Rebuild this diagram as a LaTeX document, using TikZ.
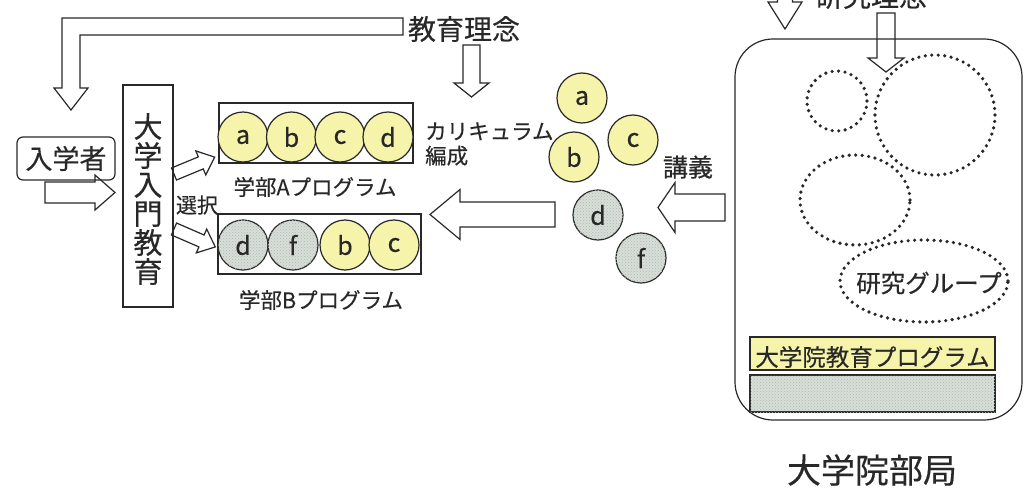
\documentclass[tikz,border=0pt]{standalone}
\usepackage{fontspec}
\setmainfont{Noto Sans CJK JP}[FakeBold=0.35]
\usetikzlibrary{patterns}
\definecolor{ink}{RGB}{40,40,40}
\definecolor{yel}{RGB}{246,243,170}
\definecolor{grn}{RGB}{216,222,216}
\definecolor{speck}{RGB}{172,186,176}
\newcommand\fs[1]{\fontsize{#1}{#1}\selectfont}
\newcommand\blockarr[6]{\draw[ln,shift={#1},rotate=#2] (0,-#4) -- ({#3-#6},-#4) -- ({#3-#6},-#5) -- (#3,0) -- ({#3-#6},#5) -- ({#3-#6},#4) -- (0,#4) -- cycle;}
\tikzset{
 ln/.style={draw=ink, line width=1.2},
 ycirc/.style={circle, ln, fill=yel, minimum size=50, inner sep=0, font=\fs{25}, text=ink},
 gcirc/.style={circle, ln, fill=grn, postaction={pattern=crosshatch dots, pattern color=speck}, minimum size=50, inner sep=0, font=\fs{25}, text=ink},
 dotline/.style={draw=ink, line width=3.6, line cap=round, dash pattern=on 0pt off 6.5pt},
 lbl/.style={text=ink, inner sep=0},
}
\begin{document}
\begin{tikzpicture}[x=1pt,y=-1pt]
\useasboundingbox (0,0) rectangle (1025,495);
% top elbow arrow
\draw[ln] (403,18) -- (62,18) -- (62,88) -- (54,88) -- (71,110) -- (88,88) -- (80,88) -- (80,35) -- (403,35) -- cycle;
\node[lbl, font=\fs{28}] (kyoiku) at (464,29) {教育理念};
\blockarr{(471.5,45)}{-90}{52}{8.5}{17.5}{14}
% entrants
\node[ln, rounded corners=6, minimum width=98, minimum height=43, inner sep=0, font=\fs{27}, text=ink] (nyu) at (66,158.5) {入学者};
\blockarr{(45,192.5)}{0}{70}{10.5}{17.5}{20}
% intro education
\node[ln, minimum width=50, minimum height=222, inner sep=0] (intro) at (148,196) {};
\node[lbl, font=\fs{29}, align=center, text=ink] (introtxt) at (148,199) {\baselineskip=32pt 大\\学\\入\\門\\教\\育};
% diagonal arrows
\blockarr{(174,174)}{22.5}{44}{6.5}{13}{15}
\blockarr{(174,229)}{-23.5}{45}{6.5}{13}{15}
\node[lbl, font=\fs{21}] (sentaku) at (197,205) {選択};
% program A
\node[ln, minimum width=194, minimum height=60, inner sep=0] (progA) at (316,133) {};
\node[ycirc] (pa) at (243,137) {a};
\node[ycirc] (pb) at (291.5,137) {b};
\node[ycirc] (pc) at (340,137) {c};
\node[ycirc] (pd) at (388,137) {d};
\node[lbl, font=\fs{21.5}] (labA) at (315,187) {学部Aプログラム};
% program B
\node[ln, minimum width=203, minimum height=60, inner sep=0] (progB) at (319.5,244) {};
\node[gcirc] (qd) at (243,245) {d};
\node[gcirc] (qf) at (293,245) {f};
\node[ycirc] (qb) at (345,245) {b};
\node[ycirc] (qc) at (394,245) {c};
\node[lbl, font=\fs{21.5}] (labB) at (321,300) {学部Bプログラム};
% curriculum
\node[lbl, font=\fs{21.5}, align=left, anchor=west] (curr) at (425,144) {カリキュラム\\[3pt]編成};
\blockarr{(555,214.5)}{180}{125}{12.5}{25}{30}
% loose lectures
\node[ycirc] (la) at (582,98) {a};
\node[ycirc] (lb) at (574,157) {b};
\node[ycirc] (lc) at (633,140) {c};
\node[gcirc] (ld) at (598,215) {d};
\node[gcirc] (lf) at (641,258) {f};
\node[lbl, font=\fs{25}] (kogi) at (688,167) {講義};
\blockarr{(725,207.5)}{180}{67}{13.5}{25}{17}
% graduate school
\node[ln, rounded corners=38, minimum width=287, minimum height=381, inner sep=0] (dept) at (878.5,229.5) {};
\node[lbl, font=\fs{28}] (kenkyu) at (871,-4) {研究理念};
\blockarr{(785,-8)}{-90}{37}{7.5}{17}{27}
\blockarr{(886,13)}{-90}{59}{9}{18}{14}
\draw[dotline] (837,101) circle[radius=30pt];
\draw[dotline] (935,115) circle[radius=60pt];
\draw[dotline] (855,200) ellipse[x radius=55pt, y radius=45pt];
\draw[dotline] (924,281) ellipse[x radius=84pt, y radius=41pt];
\node[lbl, font=\fs{24.5}] (group) at (929,283) {研究グループ};
\node[ln, fill=yel, minimum width=245, minimum height=33, inner sep=0] (gprog) at (872.5,353.5) {};
\node[lbl, font=\fs{23.5}] (gprogtxt) at (872.5,357) {大学院教育プログラム};
\node[ln, fill=grn, postaction={pattern=crosshatch dots, pattern color=speck}, minimum width=245, minimum height=37, inner sep=0] (gbar) at (872.5,393.5) {};
\node[lbl, font=\fs{34}] (bukyoku) at (872,470) {大学院部局};
\end{tikzpicture}
\end{document}
